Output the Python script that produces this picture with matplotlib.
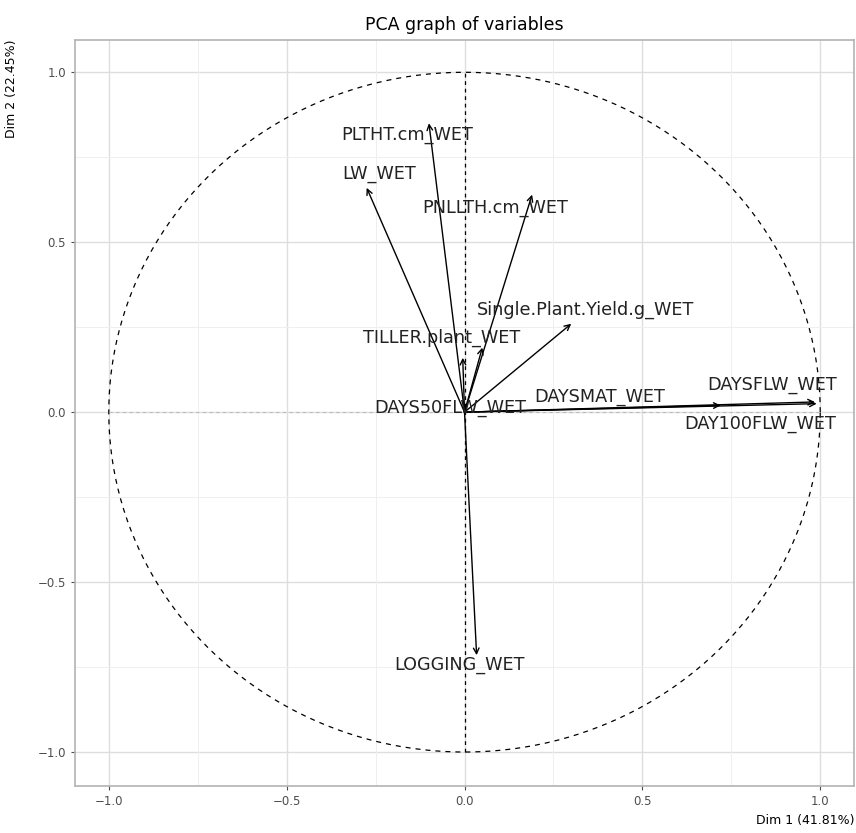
import numpy as np
import matplotlib
matplotlib.use('Agg')
import matplotlib.pyplot as plt

# variable coordinates on Dim 1 / Dim 2
variables = ['PLTHT.cm_WET', 'LW_WET', 'PNLLTH.cm_WET', 'Single.Plant.Yield.g_WET',
             'TILLER.plant_WET', 'DAYS50FLW_WET', 'DAYSMAT_WET', 'DAYSFLW_WET',
             'DAY100FLW_WET', 'LOGGING_WET']
dim1 = [-0.10, -0.275, 0.19, 0.30, 0.05, -0.005, 0.72, 0.985, 0.99, 0.034]
dim2 = [0.85, 0.66, 0.64, 0.26, 0.19, 0.16, 0.02, 0.03, 0.025, -0.715]
# where the labels sit
label_x = [-0.16, -0.24, 0.085, 0.34, -0.065, -0.04, 0.38, 0.865, 0.83, -0.015]
label_y = [0.815, 0.70, 0.60, 0.30, 0.22, 0.012, 0.045, 0.08, -0.035, -0.745]

dim1_pct = 41.81
dim2_pct = 22.45

fig = plt.figure(figsize=(8.56, 8.33), dpi=100)
ax = fig.add_axes([0.0876, 0.0564, 0.9101, 0.8956])

ax.set_xlim(-1.095, 1.095)
ax.set_ylim(-1.1, 1.095)

# grid like theme_light
for v in [-1.0, -0.5, 0.0, 0.5, 1.0]:
    ax.axvline(v, color='#dedede', lw=1.0, zorder=0)
    ax.axhline(v, color='#dedede', lw=1.0, zorder=0)
for v in [-0.75, -0.25, 0.25, 0.75]:
    ax.axvline(v, color='#efefef', lw=0.7, zorder=0)
    ax.axhline(v, color='#efefef', lw=0.7, zorder=0)

# correlation circle and zero lines
t = np.linspace(0, 2 * np.pi, 400)
ax.plot(np.cos(t), np.sin(t), color='black', lw=0.9, ls=(0, (4, 4)))
ax.plot([0, 0], [-1, 1], color='black', lw=0.9, ls=(0, (3, 3)))
ax.plot([-1, 1], [0, 0], color='#bbbbbb', lw=0.8, ls=(0, (3, 3)))

for x, y in zip(dim1, dim2):
    ax.annotate('', xy=(x, y), xytext=(0, 0),
                arrowprops=dict(arrowstyle='->', color='black', lw=1.0,
                                mutation_scale=10, shrinkA=0, shrinkB=0))

for name, x, y in zip(variables, label_x, label_y):
    ax.text(x, y, name, ha='center', va='center', fontsize=12.7, color='#222222')

ax.set_xticks([-1.0, -0.5, 0.0, 0.5, 1.0])
ax.set_yticks([-1.0, -0.5, 0.0, 0.5, 1.0])
ax.tick_params(labelsize=8.5, colors='#4d4d4d', length=3, width=0.8)
for s in ax.spines.values():
    s.set_color('#b3b3b3')
    s.set_linewidth(1.2)

ax.set_xlabel('Dim 1 (%.2f%%)' % dim1_pct, fontsize=9, loc='right')
ax.set_ylabel('Dim 2 (%.2f%%)' % dim2_pct, fontsize=9, loc='top', labelpad=14)
ax.set_title('PCA graph of variables', fontsize=12.5, pad=7)

fig.savefig('out.png', dpi=100)
